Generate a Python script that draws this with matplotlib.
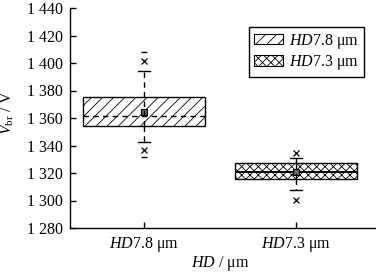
import matplotlib
matplotlib.use("Agg")
import numpy as np
from matplotlib import pyplot as plt
from matplotlib.patches import Patch
from matplotlib.ticker import FuncFormatter

# values (V)
groups = ["$HD$7.8 μm", "$HD$7.3 μm"]
q1 = [1354.2, 1315.6]
q3 = [1375.5, 1327.1]
median = [1361.7, 1320.9]
mean = [1364.6, 1320.5]
whisker_lo = [1342.3, 1307.6]
whisker_hi = [1394.4, 1330.7]
p01 = [1336.7, 1300.4]
p99 = [1401.7, 1334.8]
v_min = [1331.9, np.nan]
v_max = [1407.8, np.nan]
hatches = ["///", "xxxx"]

plt.rcParams["font.family"] = "Liberation Serif"
plt.rcParams["mathtext.fontset"] = "custom"
plt.rcParams["mathtext.rm"] = "Liberation Serif"
plt.rcParams["mathtext.it"] = "Liberation Serif:italic"
plt.rcParams["font.size"] = 11.5
plt.rcParams["hatch.linewidth"] = 0.6

fig = plt.figure(figsize=(3.76, 2.74), dpi=100)
ax = fig.add_axes([70 / 376, 1 - 228 / 274, 306 / 376, 220 / 274])

pos = np.arange(1, len(groups) + 1)
stats = []
for i in range(len(groups)):
    stats.append(dict(med=median[i], q1=q1[i], q3=q3[i], whislo=whisker_lo[i],
                      whishi=whisker_hi[i], mean=mean[i], fliers=[p01[i], p99[i]]))

res = ax.bxp(stats, positions=pos, widths=0.8, patch_artist=True, showmeans=True,
             capwidths=0.08,
             boxprops=dict(facecolor="white", edgecolor="black", linewidth=1.0),
             whiskerprops=dict(linestyle=(0, (4, 3)), linewidth=1.0, color="black"),
             capprops=dict(linewidth=1.0, color="black"),
             medianprops=dict(linewidth=1.0, color="black"),
             meanprops=dict(marker="s", markersize=4, markerfacecolor="0.4",
                            markeredgecolor="black", markeredgewidth=0.8),
             flierprops=dict(marker="x", markersize=4, markeredgecolor="black",
                             markeredgewidth=0.9))
for box, h in zip(res["boxes"], hatches):
    box.set_hatch(h)
res["medians"][0].set_linestyle((0, (4, 3)))
res["medians"][1].set_linewidth(1.4)

# whisker line drawn through the box
ax.vlines(pos, q1, q3, colors="black", linestyles=(0, (4, 3)), linewidth=1.0, zorder=3)
ax.plot(pos, v_max, linestyle="none", marker="_", markersize=5, color="black", mew=1.0)
ax.plot(pos, v_min, linestyle="none", marker="_", markersize=5, color="black", mew=1.0)

ax.set_xlim(0.513, 2.526)
ax.set_ylim(1280, 1440)
ax.set_yticks(np.arange(1280, 1441, 20))
ax.yaxis.set_major_formatter(FuncFormatter(lambda v, p: f"{int(v):,}".replace(",", " ")))
ax.set_xticks(pos)
ax.set_xticklabels(groups)
ax.tick_params(direction="in", length=4, width=1.0, pad=5)
ax.spines["top"].set_visible(False)
ax.spines["right"].set_visible(False)
ax.spines["left"].set_linewidth(1.0)
ax.spines["bottom"].set_linewidth(1.0)

ax.set_ylabel(r"$V_{\rm br}$ / V")
ax.yaxis.set_label_coords(-0.176, 0.527)
ax.set_xlabel(r"$HD$ / μm")
ax.xaxis.set_label_coords(0.49, -0.118)

handles = [Patch(facecolor="white", edgecolor="black", hatch=h, linewidth=0.8) for h in hatches]
leg = ax.legend(handles, groups, loc="upper right", bbox_to_anchor=(0.961, 0.914),
                borderaxespad=0, fancybox=False, edgecolor="black", framealpha=1,
                handlelength=1.8, handleheight=0.6, handletextpad=0.4,
                labelspacing=0.15, borderpad=0.3)
leg.get_frame().set_linewidth(1.0)

fig.savefig("out.png", dpi=100)
